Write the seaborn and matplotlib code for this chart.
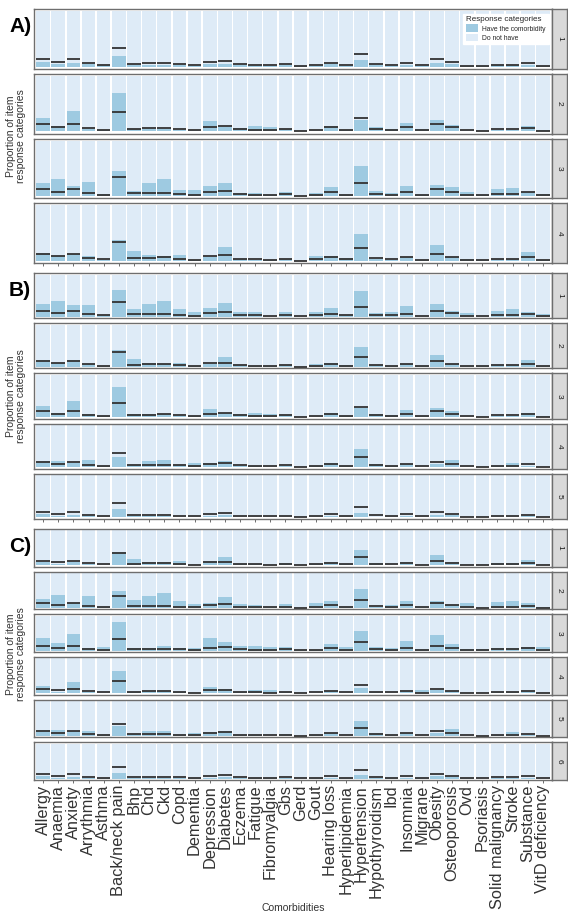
import numpy as np
import pandas as pd
import matplotlib
matplotlib.use("Agg")
import matplotlib.pyplot as plt
import seaborn as sns
from matplotlib.patches import Patch

# ---- data -------------------------------------------------------------
comorbidities = [
    "Allergy", "Anaemia", "Anxiety", "Arrythmia", "Asthma", "Back/neck pain",
    "Bhp", "Chd", "Ckd", "Copd", "Dementia", "Depression", "Diabetes",
    "Eczema", "Fatigue", "Fibromyalgia", "Gbs", "Gerd", "Gout",
    "Hearing loss", "Hyperlipidemia", "Hypertension", "Hypothyroidism", "Ibd",
    "Insomnia", "Migrane", "Obesity", "Osteoporosis", "Ovd", "Psoriasis",
    "Solid malignancy", "Stroke", "Substance", "VitD deficiency",
]

# overall prevalence of each comorbidity (reference line)
prevalence = [0.13, 0.08, 0.13, 0.055, 0.025, 0.34, 0.05, 0.055, 0.06, 0.04,
              0.02, 0.08, 0.10, 0.04, 0.025, 0.02, 0.04, 0.005, 0.025, 0.07,
              0.025, 0.235, 0.045, 0.025, 0.07, 0.02, 0.13, 0.075, 0.015, 0.01,
              0.035, 0.035, 0.065, 0.01]

# proportion having the comorbidity within each item response category
a1 = [0.08, 0.04, 0.07, 0.04, 0.02, 0.19, 0.03, 0.03, 0.03, 0.02, 0.01, 0.04,
      0.05, 0.02, 0.01, 0.01, 0.02, 0.005, 0.01, 0.04, 0.01, 0.12, 0.02, 0.01,
      0.03, 0.01, 0.07, 0.05, 0.005, 0.005, 0.02, 0.02, 0.03, 0.01]
a2 = [0.24, 0.10, 0.36, 0.05, 0.03, 0.70, 0.04, 0.04, 0.04, 0.02, 0.01, 0.19,
      0.08, 0.06, 0.09, 0.07, 0.04, 0.0, 0.01, 0.09, 0.015, 0.21, 0.07, 0.05,
      0.15, 0.05, 0.21, 0.12, 0.01, 0.01, 0.02, 0.02, 0.10, 0.03]
a3 = [0.23, 0.30, 0.19, 0.25, 0.04, 0.46, 0.09, 0.24, 0.30, 0.11, 0.11, 0.19,
      0.23, 0.06, 0.05, 0.01, 0.08, 0.0, 0.05, 0.17, 0.02, 0.54, 0.09, 0.06,
      0.19, 0.01, 0.20, 0.17, 0.07, 0.01, 0.13, 0.15, 0.07, 0.04]
a4 = [0.14, 0.09, 0.13, 0.09, 0.02, 0.38, 0.18, 0.11, 0.09, 0.11, 0.02, 0.07,
      0.25, 0.04, 0.02, 0.02, 0.04, 0.0, 0.08, 0.09, 0.05, 0.48, 0.04, 0.01,
      0.06, 0.01, 0.29, 0.07, 0.025, 0.01, 0.04, 0.04, 0.15, 0.01]

b1 = [0.31, 0.37, 0.27, 0.27, 0.03, 0.64, 0.17, 0.29, 0.38, 0.17, 0.10, 0.21,
      0.32, 0.11, 0.10, 0.0, 0.11, 0.0, 0.10, 0.21, 0.04, 0.62, 0.08, 0.10,
      0.24, 0.0, 0.31, 0.13, 0.09, 0.0, 0.13, 0.17, 0.11, 0.06]
b2 = [0.15, 0.09, 0.15, 0.07, 0.02, 0.39, 0.18, 0.09, 0.07, 0.10, 0.02, 0.07,
      0.24, 0.04, 0.02, 0.02, 0.04, 0.0, 0.07, 0.09, 0.05, 0.46, 0.04, 0.02,
      0.07, 0.02, 0.29, 0.07, 0.02, 0.02, 0.04, 0.04, 0.17, 0.01]
b3 = [0.25, 0.10, 0.37, 0.06, 0.03, 0.72, 0.06, 0.06, 0.06, 0.03, 0.02, 0.20,
      0.10, 0.07, 0.09, 0.07, 0.05, 0.01, 0.01, 0.10, 0.02, 0.22, 0.07, 0.05,
      0.17, 0.02, 0.22, 0.14, 0.01, 0.01, 0.02, 0.02, 0.10, 0.02]
b4 = [0.15, 0.15, 0.10, 0.16, 0.025, 0.25, 0.04, 0.14, 0.16, 0.05, 0.09, 0.10,
      0.15, 0.015, 0.015, 0.01, 0.03, 0.0, 0.015, 0.09, 0.015, 0.44, 0.07,
      0.015, 0.07, 0.0, 0.07, 0.16, 0.01, 0.01, 0.03, 0.10, 0.03, 0.01]
b5 = [0.07, 0.03, 0.06, 0.03, 0.01, 0.20, 0.02, 0.02, 0.02, 0.01, 0.005, 0.03,
      0.05, 0.01, 0.005, 0.005, 0.01, 0.0, 0.005, 0.03, 0.005, 0.10, 0.01,
      0.005, 0.03, 0.005, 0.06, 0.05, 0.005, 0.0, 0.01, 0.01, 0.03, 0.0]

c1 = [0.10, 0.05, 0.09, 0.03, 0.02, 0.38, 0.19, 0.08, 0.08, 0.11, 0.02, 0.11,
      0.24, 0.04, 0.03, 0.02, 0.06, 0.01, 0.05, 0.08, 0.05, 0.45, 0.06, 0.01,
      0.08, 0.01, 0.30, 0.09, 0.01, 0.01, 0.06, 0.06, 0.16, 0.01]
c2 = [0.26, 0.37, 0.15, 0.33, 0.03, 0.49, 0.24, 0.33, 0.42, 0.20, 0.12, 0.15,
      0.31, 0.11, 0.07, 0.02, 0.12, 0.0, 0.14, 0.20, 0.03, 0.55, 0.04, 0.07,
      0.20, 0.02, 0.21, 0.08, 0.13, 0.0, 0.18, 0.20, 0.14, 0.04]
c3 = [0.37, 0.21, 0.49, 0.07, 0.11, 0.81, 0.08, 0.08, 0.14, 0.07, 0.07, 0.35,
      0.25, 0.14, 0.14, 0.11, 0.11, 0.03, 0.03, 0.20, 0.11, 0.57, 0.11, 0.07,
      0.28, 0.04, 0.44, 0.20, 0.04, 0.04, 0.07, 0.07, 0.09, 0.11]
c4 = [0.21, 0.05, 0.32, 0.03, 0.01, 0.65, 0.03, 0.06, 0.06, 0.03, 0.01, 0.17,
      0.11, 0.03, 0.08, 0.08, 0.03, 0.01, 0.01, 0.07, 0.01, 0.14, 0.04, 0.01,
      0.07, 0.08, 0.10, 0.07, 0.01, 0.0, 0.03, 0.03, 0.07, 0.0]
c5 = [0.17, 0.16, 0.13, 0.13, 0.02, 0.29, 0.05, 0.13, 0.13, 0.02, 0.08, 0.11,
      0.15, 0.02, 0.02, 0.01, 0.06, 0.0, 0.02, 0.08, 0.01, 0.43, 0.08, 0.02,
      0.08, 0.01, 0.08, 0.19, 0.01, 0.0, 0.02, 0.10, 0.04, 0.01]
c6 = [0.08, 0.03, 0.05, 0.02, 0.01, 0.16, 0.02, 0.02, 0.02, 0.01, 0.005, 0.03,
      0.04, 0.01, 0.005, 0.005, 0.01, 0.0, 0.005, 0.03, 0.005, 0.09, 0.01,
      0.005, 0.03, 0.005, 0.07, 0.04, 0.005, 0.0, 0.01, 0.01, 0.03, 0.0]

group_labels = ["A)", "B)", "C)"]
group_panels = [[a1, a2, a3, a4], [b1, b2, b3, b4, b5], [c1, c2, c3, c4, c5, c6]]
legend_labels = ["Have the comorbidity", "Do not have"]

# ---- style ------------------------------------------------------------
sns.set_theme(style="white")
plt.rcParams["font.family"] = ["Liberation Sans", "DejaVu Sans"]

HAVE = "#9ECAE1"
NOT_HAVE = "#DEEBF7"
LINE = "#333333"
FRAME = "#6E6E6E"

W, H = 568, 918
fig = plt.figure(figsize=(W / 100, H / 100), dpi=100)


def rect(x0, y0, x1, y1):
    """Pixel box (top-left origin) to figure fraction."""
    return [x0 / W, 1 - y1 / H, (x1 - x0) / W, (y1 - y0) / H]


left, right, strip_w = 34, 552, 15
spans = [(9, 263), (273, 519), (529, 780)]
gap = 5
bar_w = 0.9
xpos = np.arange(len(comorbidities))

for g, (glabel, panels, (top, bottom)) in enumerate(zip(group_labels, group_panels, spans)):
    n = len(panels)
    ph = (bottom - top - gap * (n - 1)) / n
    for k, have in enumerate(panels):
        y0 = top + k * (ph + gap)
        ax = fig.add_axes(rect(left, y0, right, y0 + ph))
        df = pd.DataFrame({"comorbidity": comorbidities, "have": have,
                           "total": np.ones(len(have))})
        sns.barplot(data=df, x="comorbidity", y="total", color=NOT_HAVE,
                    saturation=1, width=bar_w, errorbar=None, ax=ax,
                    edgecolor="none", linewidth=0)
        sns.barplot(data=df, x="comorbidity", y="have", color=HAVE,
                    saturation=1, width=bar_w, errorbar=None, ax=ax,
                    edgecolor="none", linewidth=0)
        ax.hlines(prevalence, xpos - bar_w / 2, xpos + bar_w / 2,
                  color=LINE, lw=1.3, zorder=5)
        ax.set_xlim(-0.6, len(comorbidities) - 0.4)
        ax.set_ylim(-0.04, 1.04)
        ax.set_xlabel("")
        ax.set_ylabel("")
        ax.set_yticks([])
        for sp in ax.spines.values():
            sp.set_color(FRAME)
            sp.set_linewidth(1.0)
        last = k == n - 1
        ax.tick_params(axis="x", bottom=last, length=2.5, width=0.6,
                       color="#555555", pad=1)
        if g == 2 and last:
            ax.set_xticks(xpos)
            ax.set_xticklabels(comorbidities, rotation=90, fontsize=11.8,
                               color="#333333", va="top", ha="center")
        else:
            ax.set_xticks(xpos)
            ax.set_xticklabels([])

        # facet strip on the right
        sax = fig.add_axes(rect(right, y0, right + strip_w, y0 + ph))
        sax.set_facecolor("#D9D9D9")
        sax.set_xticks([])
        sax.set_yticks([])
        for sp in sax.spines.values():
            sp.set_color(FRAME)
            sp.set_linewidth(1.0)
        sax.text(0.5, 0.5, str(k + 1), rotation=270, ha="center",
                 va="center", fontsize=6, color="#1A1A1A",
                 transform=sax.transAxes)

        if g == 0 and k == 0:
            handles = [Patch(facecolor=HAVE, edgecolor="none"),
                       Patch(facecolor=NOT_HAVE, edgecolor="none")]
            leg = ax.legend(handles, legend_labels, title="Response categories",
                            loc="upper right", bbox_to_anchor=(1.0, 0.98),
                            fontsize=4.9, title_fontsize=5.8, frameon=True,
                            facecolor="white", edgecolor="white",
                            framealpha=1, handlelength=1.8, handleheight=1.4,
                            handletextpad=0.6, labelspacing=0.15,
                            borderpad=0.4, fancybox=False)
            leg._legend_box.align = "left"
            leg.set_zorder(10)

    # group label and shared y title
    fig.text(9 / W, 1 - (top + 17) / H, glabel, fontsize=15,
             fontweight="bold", va="center", ha="left", color="black")
    fig.text(16 / W, 1 - ((top + bottom) / 2) / H,
             "Proportion of item\nresponse categories", rotation=90,
             fontsize=7.5, ha="center", va="center", color="#333333",
             linespacing=1.0, multialignment="center")

fig.text(((left + right) / 2) / W, 1 - 908 / H, "Comorbidities",
         fontsize=7.5, ha="center", va="center", color="#333333")

fig.savefig("out.png", dpi=100, facecolor="white")
